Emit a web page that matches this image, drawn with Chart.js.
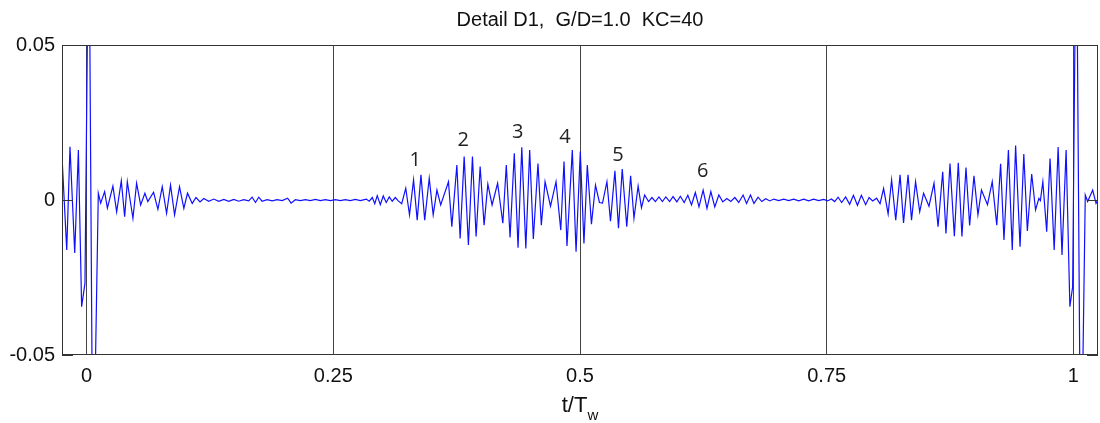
<!DOCTYPE html>
<html>
<head>
    <style>
        body { margin: 0; background: #fff; }
        #wrap { position: relative; width: 1100px; height: 423px; }
        #title {
            position: absolute; left: 62px; width: 1036px; top: 8px;
            text-align: center; line-height: 1;
            font: 20px "Liberation Sans", Arial, sans-serif; color: #111;
        }
        #xlabel {
            position: absolute; left: 62px; width: 1036px; top: 392px;
            text-align: center; line-height: 1;
            font: 22px "Liberation Sans", Arial, sans-serif; color: #111;
        }
        #xlabel sub { font-size: 15px; position: relative; top: 3px; }
    </style>
    <script src="https://cdn.jsdelivr.net/npm/chart.js"></script>
</head>
<body>
<div id="wrap">
    <canvas id="myChart" width="1100" height="423"></canvas>
    <div id="title">Detail D1,&nbsp; G/D=1.0&nbsp; KC=40</div>
    <div id="xlabel">t/T<sub>w</sub></div>
</div>
<script>
    // t/Tw of each turning point
    var T = [
        // start + spike at t=0, first packet
        -0.0250, -0.0202, -0.0169, -0.0121, -0.0084, -0.0051, -0.0017, 0.0022, 0.0064, 0.0118,
        0.0142, 0.0182, 0.0210, 0.0266, 0.0304, 0.0351, 0.0385, 0.0412, 0.0469, 0.0506,
        0.0547, 0.0590, 0.0620, 0.0678, 0.0722, 0.0766, 0.0810, 0.0850, 0.0891, 0.0941,
        0.0985, 0.1022, 0.1070, 0.1108, 0.1149,
        // quiet part
        0.1187, 0.1238, 0.1288, 0.1339, 0.1390, 0.1440, 0.1491, 0.1541, 0.1592, 0.1643,
        0.1677, 0.1711, 0.1744, 0.1778, 0.1829, 0.1880, 0.1930, 0.1981, 0.2037, 0.2072,
        0.2115, 0.2166, 0.2217, 0.2267, 0.2318, 0.2368, 0.2419, 0.2470, 0.2520, 0.2571,
        0.2621, 0.2672, 0.2723, 0.2773,
        // packets 1-5
        0.2834, 0.2864, 0.2895, 0.2920, 0.2945, 0.2976, 0.3006, 0.3036, 0.3067, 0.3097,
        0.3128, 0.3158, 0.3193, 0.3234, 0.3272, 0.3313, 0.3350, 0.3388, 0.3426, 0.3472,
        0.3512, 0.3550, 0.3588, 0.3667, 0.3701, 0.3752, 0.3785, 0.3826, 0.3869, 0.3910,
        0.3947, 0.3988, 0.4028, 0.4066, 0.4109, 0.4165, 0.4218, 0.4253, 0.4291, 0.4334,
        0.4372, 0.4410, 0.4451, 0.4490, 0.4527, 0.4574, 0.4608, 0.4646, 0.4701, 0.4757,
        0.4805, 0.4838, 0.4868, 0.4922, 0.4960, 0.5003, 0.5040, 0.5074, 0.5116, 0.5157,
        0.5197, 0.5228, 0.5273, 0.5309, 0.5354, 0.5390, 0.5428, 0.5474, 0.5513, 0.5547,
        0.5589, 0.5623, 0.5655, 0.5695,
        // packet 6 and quiet part
        0.5729, 0.5764, 0.5800, 0.5835, 0.5870, 0.5908, 0.5943, 0.5982, 0.6017, 0.6056,
        0.6093, 0.6130, 0.6169, 0.6206, 0.6248, 0.6287, 0.6326, 0.6366, 0.6407, 0.6447,
        0.6488, 0.6528, 0.6569, 0.6609, 0.6653, 0.6688, 0.6728, 0.6763, 0.6805, 0.6842,
        0.6883, 0.6923, 0.6964, 0.7014, 0.7065, 0.7115, 0.7166, 0.7217, 0.7267, 0.7318,
        0.7368, 0.7419, 0.7470, 0.7510,
        // last packets + spike at t=1
        0.7548, 0.7581, 0.7616, 0.7652, 0.7692, 0.7733, 0.7771, 0.7812, 0.7852, 0.7895,
        0.7930, 0.7966, 0.8006, 0.8041, 0.8077, 0.8123, 0.8158, 0.8200, 0.8244, 0.8279,
        0.8325, 0.8360, 0.8401, 0.8443, 0.8482, 0.8537, 0.8588, 0.8629, 0.8676, 0.8709,
        0.8750, 0.8794, 0.8834, 0.8871, 0.8912, 0.8949, 0.8993, 0.9033, 0.9069, 0.9130,
        0.9178, 0.9224, 0.9263, 0.9297, 0.9342, 0.9381, 0.9415, 0.9460, 0.9498, 0.9534,
        0.9578, 0.9617, 0.9651, 0.9666, 0.9691, 0.9730, 0.9764, 0.9806, 0.9846, 0.9885,
        0.9927, 0.9965, 0.9993, 1.0030, 1.0076, 1.0121, 1.0145, 1.0196, 1.0230, 1.0253
    ];
    var D1 = [
        0.0140, -0.0161, 0.0172, -0.0171, 0.0161, -0.0344, -0.0268, 0.1000, -0.1000, 0.0022,
        -0.0010, 0.0027, -0.0026, 0.0045, -0.0038, 0.0062, -0.0054, 0.0059, -0.0059, 0.0054,
        -0.0016, 0.0022, -0.0005, 0.0025, -0.0030, 0.0043, -0.0043, 0.0048, -0.0048, 0.0043,
        -0.0027, 0.0022, -0.0011, 0.0008, -0.0006,

        0.0005, -0.0004, 0.0003, -0.0004, 0.0002, -0.0004, 0.0002, -0.0004, 0.0001, -0.0003,
        0.0009, -0.0008, 0.0009, -0.0004, 0.0001, -0.0003, 0.0001, -0.0002, 0.0006, -0.0010,
        0.0001, -0.0002, 0.0001, -0.0002, 0.0002, -0.0002, 0.0001, -0.0002, 0.0001, -0.0002,
        0.0001, -0.0002, 0.0002, -0.0002,

        0.0003, -0.0004, 0.0008, -0.0012, 0.0014, -0.0015, 0.0013, -0.0008, 0.0010, -0.0004,
        0.0008, -0.0003, -0.0012, 0.0038, -0.0048, 0.0065, -0.0065, 0.0081, -0.0065, 0.0070,
        -0.0048, 0.0032, -0.0016, 0.0059, -0.0086, 0.0113, -0.0124, 0.0140, -0.0145, 0.0140,
        -0.0118, 0.0108, -0.0081, 0.0051, -0.0016, 0.0054, -0.0075, 0.0113, -0.0121, 0.0151,
        -0.0154, 0.0170, -0.0156, 0.0161, -0.0126, 0.0118, -0.0081, 0.0059, -0.0020, 0.0059,
        -0.0097, 0.0124, -0.0148, 0.0161, -0.0167, 0.0156, -0.0140, 0.0113, -0.0078, 0.0048,
        -0.0008, -0.0010, 0.0059, -0.0068, 0.0094, -0.0091, 0.0100, -0.0086, 0.0078, -0.0059,
        0.0045, -0.0025, 0.0016, -0.0005,

        0.0008, -0.0005, 0.0010, -0.0005, 0.0010, -0.0005, 0.0011, -0.0006, 0.0012, -0.0008,
        0.0015, -0.0016, 0.0024, -0.0022, 0.0032, -0.0027, 0.0027, -0.0022, 0.0016, -0.0006,
        0.0005, -0.0005, 0.0008, -0.0008, 0.0016, -0.0011, 0.0016, -0.0011, 0.0009, -0.0005,
        0.0004, -0.0003, 0.0003, -0.0002, 0.0003, -0.0002, 0.0003, -0.0003, 0.0003, -0.0003,
        0.0003, -0.0002, 0.0002, -0.0003,

        0.0003, -0.0005, 0.0009, -0.0008, 0.0010, -0.0014, 0.0015, -0.0017, 0.0015, -0.0015,
        0.0008, -0.0003, 0.0006, -0.0012, 0.0037, -0.0045, 0.0065, -0.0065, 0.0081, -0.0074,
        0.0081, -0.0065, 0.0059, -0.0038, 0.0022, -0.0020, 0.0054, -0.0086, 0.0091, -0.0108,
        0.0118, -0.0117, 0.0120, -0.0118, 0.0105, -0.0082, 0.0078, -0.0048, 0.0032, -0.0015,
        0.0059, -0.0081, 0.0117, -0.0129, 0.0161, -0.0161, 0.0176, -0.0151, 0.0148, -0.0100,
        0.0084, -0.0032, 0.0005, -0.0002, 0.0059, -0.0102, 0.0134, -0.0161, 0.0171, -0.0177,
        0.0161, -0.0344, -0.0280, 0.1000, -0.1000, 0.0016, -0.0005, 0.0032, -0.0011, 0.0003
    ];

    var X_TICKS = [0, 0.25, 0.5, 0.75, 1];
    var X_TICK_LABELS = ['0', '0.25', '0.5', '0.75', '1'];
    var Y_TICKS = [-0.05, 0, 0.05];
    var Y_TICK_LABELS = ['-0.05', '0', '0.05'];

    // numbered wave groups
    var NOTE_LABELS = ['1', '2', '3', '4', '5', '6'];
    var NOTE_T = [0.333, 0.3816, 0.437, 0.4848, 0.5385, 0.6245];
    var NOTE_V = [0.0129, 0.0191, 0.0220, 0.0203, 0.0145, 0.0092];

    var tickFont = { family: '"Liberation Sans", Arial, sans-serif', size: 20 };

    // box, inward ticks and the numbers
    var framePlugin = {
        id: 'frame',
        afterDatasetsDraw: function(chart) {
            var ctx = chart.ctx, a = chart.chartArea;
            var xs = chart.scales.x, ys = chart.scales.y;
            ctx.save();
            ctx.strokeStyle = '#333';
            ctx.lineWidth = 1;
            ctx.strokeRect(a.left + 0.5, a.top + 0.5, a.right - a.left - 1, a.bottom - a.top - 1);
            ctx.beginPath();
            Y_TICKS.forEach(function(v) {
                var py = Math.round(ys.getPixelForValue(v)) + 0.5;
                ctx.moveTo(a.left, py); ctx.lineTo(a.left + 11, py);
                ctx.moveTo(a.right, py); ctx.lineTo(a.right - 11, py);
            });
            ctx.stroke();
            ctx.fillStyle = '#222';
            ctx.font = '20px "Open Sans", sans-serif';
            ctx.textAlign = 'center';
            ctx.textBaseline = 'middle';
            NOTE_LABELS.forEach(function(s, i) {
                ctx.fillText(s, xs.getPixelForValue(NOTE_T[i]), ys.getPixelForValue(NOTE_V[i]));
            });
            ctx.restore();
        }
    };

    var ctx = document.getElementById('myChart').getContext('2d');
    var myChart = new Chart(ctx, {
        type: 'line',
        data: {
            datasets: [{
                data: T.map(function(t, i) { return { x: t, y: D1[i] }; }),
                borderColor: '#1010ff',
                borderWidth: 1.2,
                pointRadius: 0,
                tension: 0,
                fill: false
            }]
        },
        options: {
            responsive: false,
            animation: false,
            layout: { padding: { top: 45, right: 2, left: 0, bottom: 0 } },
            plugins: { legend: { display: false }, tooltip: { enabled: false } },
            scales: {
                x: {
                    type: 'linear',
                    min: -0.025,
                    max: 1.025,
                    afterBuildTicks: function(s) { s.ticks = X_TICKS.map(function(v) { return { value: v }; }); },
                    afterFit: function(s) { s.height = 68; },
                    ticks: {
                        callback: function(v, i) { return X_TICK_LABELS[i]; },
                        font: tickFont, color: '#111', padding: 9, maxRotation: 0
                    },
                    grid: { color: '#444', lineWidth: 1, drawTicks: false },
                    border: { display: false }
                },
                y: {
                    min: -0.05,
                    max: 0.05,
                    afterBuildTicks: function(s) { s.ticks = Y_TICKS.map(function(v) { return { value: v }; }); },
                    afterFit: function(s) { s.width = 62; },
                    ticks: {
                        callback: function(v, i) { return Y_TICK_LABELS[i]; },
                        font: tickFont, color: '#111', padding: 7
                    },
                    grid: { display: false, drawTicks: false },
                    border: { display: false }
                }
            }
        },
        plugins: [framePlugin]
    });
</script>
</body>
</html>
